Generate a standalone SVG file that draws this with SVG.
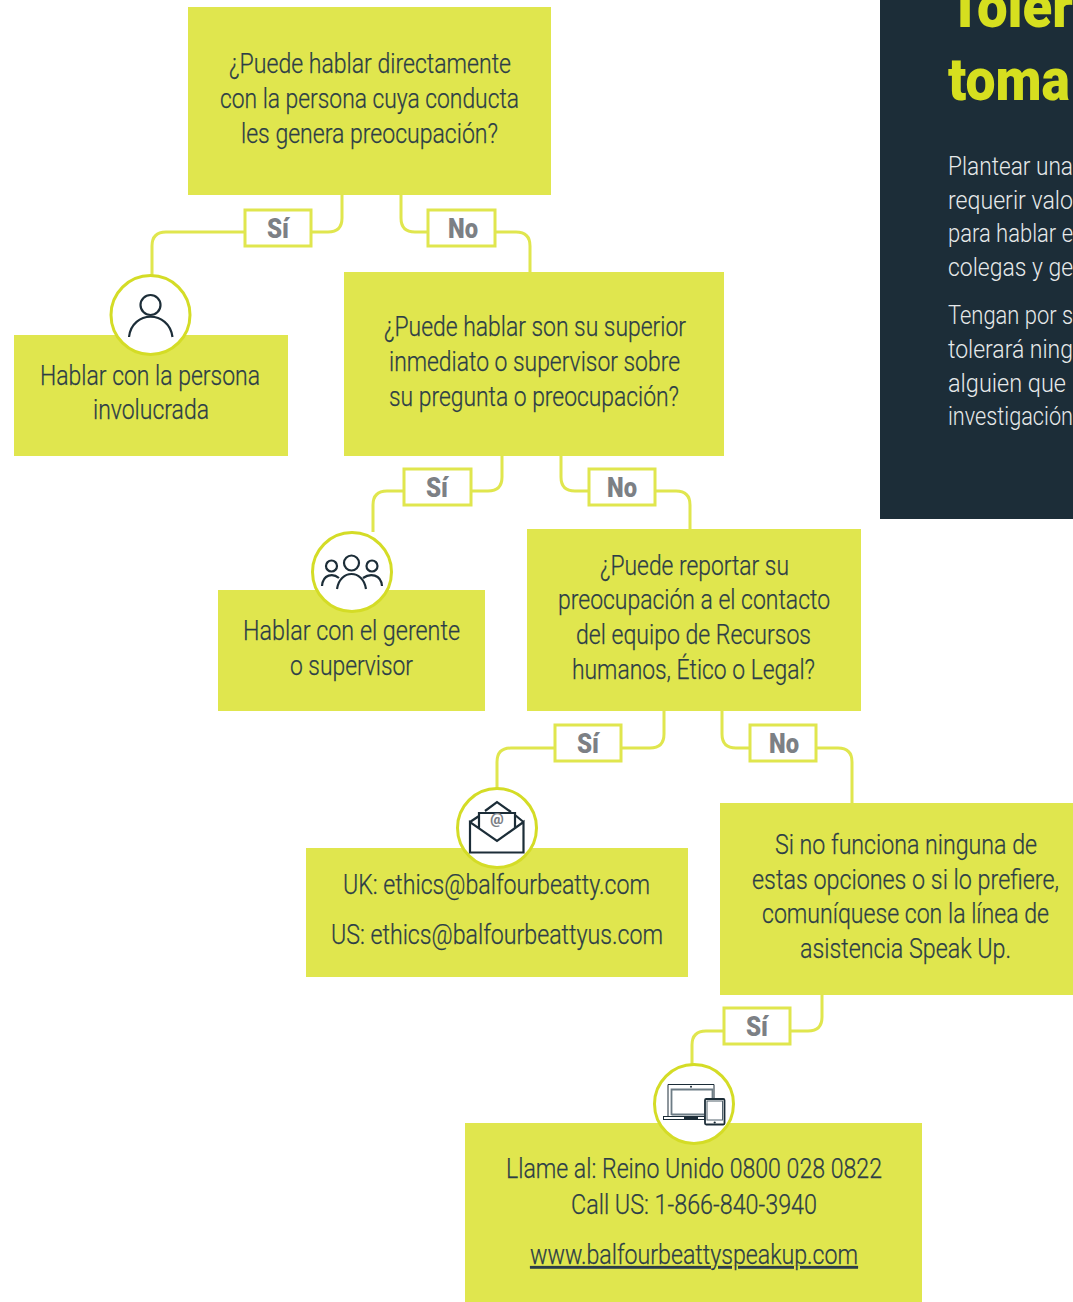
<svg xmlns="http://www.w3.org/2000/svg" width="1073" height="1302" viewBox="0 0 1073 1302">
<style>
.box{fill:#e0e64e}
.t{font-family:Roboto,"Liberation Sans",sans-serif;font-weight:300;font-size:27px;fill:#2c3d47;stroke:#2c3d47;stroke-width:.25}
.w{font-family:Roboto,"Liberation Sans",sans-serif;font-weight:300;font-size:26px;fill:#e6e9ea}
.h{font-family:Roboto,"Liberation Sans",sans-serif;font-weight:900;font-size:60px;fill:#d6df1f}
.l{font-family:Roboto,"Liberation Sans",sans-serif;font-weight:900;font-size:27px;fill:#7c8085}
.lb{fill:#fff;stroke:#e0e64e;stroke-width:3}
.c{fill:none;stroke:#e0e64e;stroke-width:3}
.ci{fill:#fff;stroke:#d4dc26;stroke-width:3}
.i{fill:none;stroke:#1c2d38;stroke-width:2.2}
</style>
<g id="panel">
<rect x="880" y="0" width="193" height="519" fill="#1c2d38"/>
<text class="h" x="948" y="27" textLength="125" lengthAdjust="spacingAndGlyphs">Toler</text>
<text class="h" x="948" y="100" textLength="122" lengthAdjust="spacingAndGlyphs">toma</text>
<text class="w" x="948" y="175" textLength="125" lengthAdjust="spacingAndGlyphs">Plantear una</text>
<text class="w" x="948" y="209" textLength="125" lengthAdjust="spacingAndGlyphs">requerir valo</text>
<text class="w" x="948" y="242" textLength="125" lengthAdjust="spacingAndGlyphs">para hablar e</text>
<text class="w" x="948" y="276" textLength="125" lengthAdjust="spacingAndGlyphs">colegas y ge</text>
<text class="w" x="948" y="324" textLength="125" lengthAdjust="spacingAndGlyphs">Tengan por s</text>
<text class="w" x="948" y="358" textLength="125" lengthAdjust="spacingAndGlyphs">tolerará ning</text>
<text class="w" x="948" y="392" textLength="118" lengthAdjust="spacingAndGlyphs">alguien que</text>
<text class="w" x="948" y="425" textLength="125" lengthAdjust="spacingAndGlyphs">investigación</text>
</g>
<g id="connectors">
<path class="c" d="M342 195V218Q342 232 328 232H311M245 232H166Q152 232 152 246V276"/>
<path class="c" d="M401 195V218Q401 232 415 232H428M495 232H516Q530 232 530 246V272"/>
<path class="c" d="M502 456V477Q502 491 488 491H471M404 491H387Q373 491 373 505V532"/>
<path class="c" d="M561 456V477Q561 491 575 491H589M655 491H676Q690 491 690 505V529"/>
<path class="c" d="M664 711V734Q664 748 650 748H621M555 748H511Q497 748 497 762V789"/>
<path class="c" d="M722 711V734Q722 748 736 748H750M816 748H838Q852 748 852 762V803"/>
<path class="c" d="M822 995V1017Q822 1031 808 1031H790M724 1031H706Q692 1031 692 1045V1065"/>
</g>
<g id="q1"><rect class="box" x="188" y="7" width="363" height="188"/>
<text class="t" x="229" y="73" textLength="282" lengthAdjust="spacingAndGlyphs">¿Puede hablar directamente</text>
<text class="t" x="220" y="108" textLength="299" lengthAdjust="spacingAndGlyphs">con la persona cuya conducta</text>
<text class="t" x="241" y="143" textLength="257" lengthAdjust="spacingAndGlyphs">les genera preocupación?</text></g>
<g id="label-si-1"><rect class="lb" x="245" y="210" width="66" height="36"/><text class="l" x="267" y="238" textLength="22" lengthAdjust="spacingAndGlyphs">Sí</text></g>
<g id="label-no-1"><rect class="lb" x="428" y="210" width="67" height="36"/><text class="l" x="448" y="238" textLength="30" lengthAdjust="spacingAndGlyphs">No</text></g>
<g id="a1"><rect class="box" x="14" y="335" width="274" height="121"/>
<text class="t" x="40" y="385" textLength="220" lengthAdjust="spacingAndGlyphs">Hablar con la persona</text>
<text class="t" x="93" y="419" textLength="116" lengthAdjust="spacingAndGlyphs">involucrada</text>
<circle class="ci" cx="150.500" cy="315" r="39.500"/>
<circle class="i" cx="150.500" cy="305" r="10"/>
<path class="i" d="M129 337C132 310 169 310 172.500 337"/></g>
<g id="q2"><rect class="box" x="344" y="272" width="380" height="184"/>
<text class="t" x="384" y="336" textLength="302" lengthAdjust="spacingAndGlyphs">¿Puede hablar son su superior</text>
<text class="t" x="389" y="371" textLength="291" lengthAdjust="spacingAndGlyphs">inmediato o supervisor sobre</text>
<text class="t" x="389" y="406" textLength="290" lengthAdjust="spacingAndGlyphs">su pregunta o preocupación?</text></g>
<g id="label-si-2"><rect class="lb" x="404" y="469" width="67" height="36"/><text class="l" x="426" y="497" textLength="22" lengthAdjust="spacingAndGlyphs">Sí</text></g>
<g id="label-no-2"><rect class="lb" x="589" y="469" width="66" height="36"/><text class="l" x="607" y="497" textLength="30" lengthAdjust="spacingAndGlyphs">No</text></g>
<g id="a2"><rect class="box" x="218" y="590" width="267" height="121"/>
<text class="t" x="243" y="640" textLength="217" lengthAdjust="spacingAndGlyphs">Hablar con el gerente</text>
<text class="t" x="290" y="675" textLength="123" lengthAdjust="spacingAndGlyphs">o supervisor</text>
<circle class="ci" cx="352" cy="572" r="39.500"/>
<circle class="i" cx="331.500" cy="566" r="5.500"/><circle class="i" cx="351.500" cy="563" r="7.500"/><circle class="i" cx="372" cy="566" r="5.500"/>
<path class="i" d="M337 589C340 569 363 569 366 589M322 586C323 574 333 573 339 578M363 578C370 573 381 574 382 586"/></g>
<g id="q3"><rect class="box" x="527" y="529" width="334" height="182"/>
<text class="t" x="600" y="575" textLength="189" lengthAdjust="spacingAndGlyphs">¿Puede reportar su</text>
<text class="t" x="558" y="609" textLength="272" lengthAdjust="spacingAndGlyphs">preocupación a el contacto</text>
<text class="t" x="576" y="644" textLength="235" lengthAdjust="spacingAndGlyphs">del equipo de Recursos</text>
<text class="t" x="572" y="679" textLength="243" lengthAdjust="spacingAndGlyphs">humanos, Ético o Legal?</text></g>
<g id="label-si-3"><rect class="lb" x="555" y="725" width="66" height="36"/><text class="l" x="577" y="753" textLength="22" lengthAdjust="spacingAndGlyphs">Sí</text></g>
<g id="label-no-3"><rect class="lb" x="750" y="725" width="66" height="36"/><text class="l" x="769" y="753" textLength="30" lengthAdjust="spacingAndGlyphs">No</text></g>
<g id="a3"><rect class="box" x="306" y="848" width="382" height="129"/>
<text class="t" x="343" y="894" textLength="307" lengthAdjust="spacingAndGlyphs">UK: ethics@balfourbeatty.com</text>
<text class="t" x="331" y="944" textLength="332" lengthAdjust="spacingAndGlyphs">US: ethics@balfourbeattyus.com</text>
<circle class="ci" cx="497" cy="828" r="39.500"/>
<path class="i" d="M470 822V852.500H523.500V822L497 841ZM470 822L479 816M523.500 822L515 815M485 811L497 802L511 812M479 828V813H515V828"/>
<text x="497" y="824" text-anchor="middle" font-family="Roboto,'Liberation Sans',sans-serif" font-weight="900" font-size="15" fill="#7c8085">@</text></g>
<g id="a4"><rect class="box" x="720" y="803" width="353" height="192"/>
<text class="t" x="775" y="854" textLength="262" lengthAdjust="spacingAndGlyphs">Si no funciona ninguna de</text>
<text class="t" x="752" y="889" textLength="307" lengthAdjust="spacingAndGlyphs">estas opciones o si lo prefiere,</text>
<text class="t" x="762" y="923" textLength="287" lengthAdjust="spacingAndGlyphs">comuníquese con la línea de</text>
<text class="t" x="800" y="958" textLength="211" lengthAdjust="spacingAndGlyphs">asistencia Speak Up.</text></g>
<g id="label-si-4"><rect class="lb" x="724" y="1008" width="66" height="36"/><text class="l" x="746" y="1036" textLength="22" lengthAdjust="spacingAndGlyphs">Sí</text></g>
<g id="a5"><rect class="box" x="465" y="1123" width="457" height="179"/>
<text class="t" x="506" y="1178" textLength="376" lengthAdjust="spacingAndGlyphs">Llame al: Reino Unido 0800 028 0822</text>
<text class="t" x="571" y="1214" textLength="246" lengthAdjust="spacingAndGlyphs">Call US: 1-866-840-3940</text>
<text class="t" x="530" y="1264" textLength="328" lengthAdjust="spacingAndGlyphs" text-decoration="underline">www.balfourbeattyspeakup.com</text>
<circle class="ci" cx="694" cy="1104" r="39.500"/>
<path fill="none" stroke="#1c2d38" stroke-width="1" d="M668 1117V1084.500H714V1098"/>
<path fill="none" stroke="#6d7c85" stroke-width="1.800" d="M671.500 1115V1089.500H712.500V1098M671.500 1114.500H704"/>
<rect x="663.500" y="1116.500" width="41" height="3" fill="#fff" stroke="#1c2d38" stroke-width="1"/>
<rect x="684" y="1117" width="14" height="2.500" fill="#1c2d38"/>
<circle cx="691" cy="1086.700" r="1" fill="#1c2d38"/>
<rect x="705" y="1099" width="19.500" height="25.500" rx="1.200" fill="#fff" stroke="#1c2d38" stroke-width="1.800"/>
<rect x="707" y="1101" width="15.500" height="19" fill="#fff" stroke="#52636d" stroke-width="1"/>
<circle cx="714.700" cy="1122.500" r="1.100" fill="#1c2d38"/></g>
</svg>
